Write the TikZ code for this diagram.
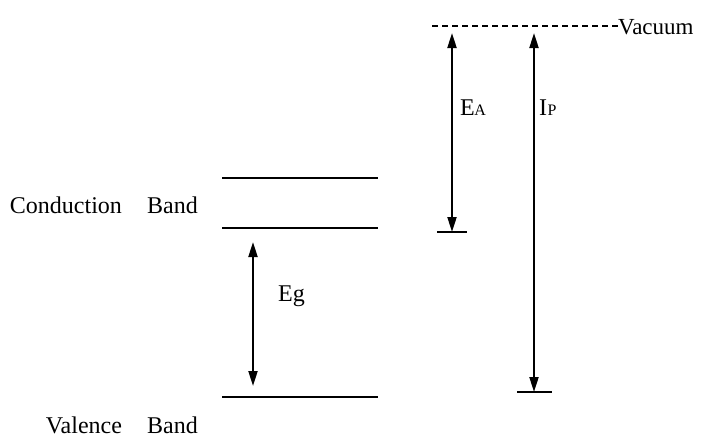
\documentclass[tikz,border=0pt]{standalone}
\usepackage{fontspec}
\setmainfont{Liberation Serif}
\usetikzlibrary{arrows.meta}

\tikzset{
  band/.style={line width=1.8pt},
  gap/.style={line width=2pt, {Triangle[length=15pt,width=9pt]}-{Triangle[length=15pt,width=9pt]}},
  lbl/.style={font=\fontsize{24}{28}\selectfont, inner sep=0pt},
}
\newcommand{\subcap}[1]{{\fontsize{16}{16}\selectfont #1}}

\begin{document}
\begin{tikzpicture}[x=1pt, y=-1pt]
  \useasboundingbox (0,0) rectangle (703,445);

  % band edges
  \draw[band] (222,178) coordinate (cbtopL) -- (378,178) coordinate (cbtopR);
  \draw[band] (222,228) coordinate (cbL) -- (378,228) coordinate (cbR);
  \draw[band] (222,397) coordinate (vbL) -- (378,397) coordinate (vbR);
  \node[lbl, anchor=base east] (cblabel) at (198,213) {Conduction\hspace{1.05em}Band};
  \node[lbl, anchor=base east] (vblabel) at (198,433) {Valence\hspace{1.05em}Band};

  % band gap
  \coordinate (egtop) at (253,242);
  \coordinate (egbot) at (253,386);
  \draw[gap] (egtop) -- (egbot);
  \node[lbl, anchor=base west] (eg) at (278,301) {Eg};

  % vacuum level
  \coordinate (vacL) at (432,26);
  \coordinate (vacR) at (620,26);
  \draw[line width=1.4pt, dash pattern=on 6pt off 4pt] (vacL) -- (vacR);
  \node[lbl, anchor=base west, font=\fontsize{23}{26}\selectfont] (vac) at (618,34) {Vacuum};

  % electron affinity
  \coordinate (eatop) at (452,33);
  \coordinate (eabot) at (452,232);
  \draw[gap] (eabot) -- (eatop);
  \draw[band] (437,232) -- (467,232);
  \node[lbl, anchor=base west] (ea) at (460,115) {E\kern-0.5pt\subcap{A}};

  % ionisation potential
  \coordinate (iptop) at (534,33);
  \coordinate (ipbot) at (534,392);
  \draw[gap] (ipbot) -- (iptop);
  \draw[band] (517,392) -- (552,392);
  \node[lbl, anchor=base west] (ip) at (539,115) {I\kern0.5pt\subcap{P}};
\end{tikzpicture}
\end{document}
